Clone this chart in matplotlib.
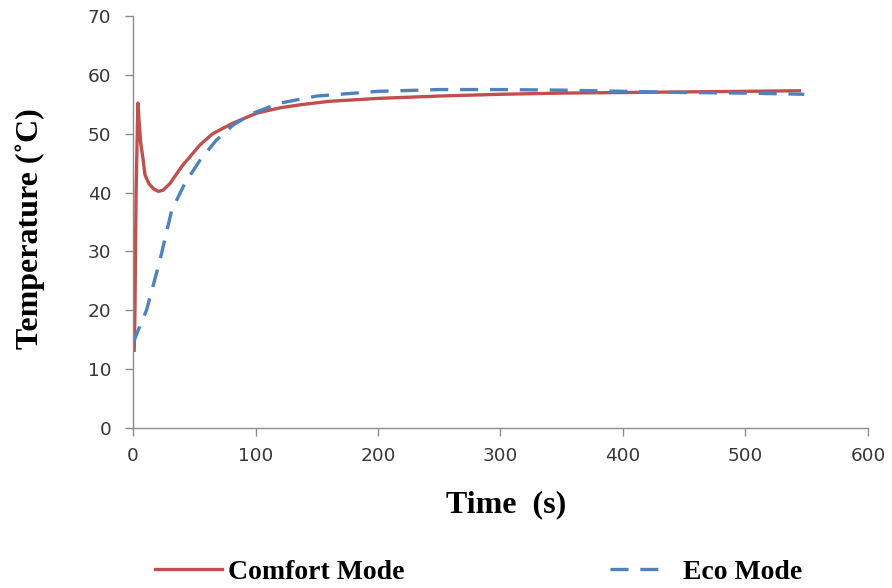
import matplotlib
matplotlib.use("Agg")
import matplotlib.pyplot as plt

# Data
comfort_t = [1, 1.6, 2.5, 4, 5, 6.3, 8, 9.8, 13, 17, 20.7, 24.5, 30, 40, 54.7, 65, 81.6,
             101, 120, 136, 160, 200, 250, 300, 350, 400, 450, 500, 544]
comfort_y = [13.2, 20, 40, 55.2, 52, 48.4, 46, 43, 41.5, 40.6, 40.2, 40.4, 41.5, 44.5, 48.1,
             50, 51.8, 53.5, 54.4, 54.9, 55.5, 56, 56.4, 56.7, 56.9, 57, 57.1, 57.2, 57.3]

eco_t = [0, 5, 11, 22, 31.6, 42.4, 54.7, 68, 81.9, 98, 120, 150, 200, 250, 300, 350, 400,
         450, 500, 548]
eco_y = [14.4, 17, 20, 28.5, 37, 41.6, 45.5, 48.9, 51.5, 53.5, 55.2, 56.4, 57.2, 57.5, 57.5,
         57.4, 57.2, 57.0, 56.9, 56.7]

x_ticks = [0, 100, 200, 300, 400, 500, 600]
y_ticks = [0, 10, 20, 30, 40, 50, 60, 70]

plt.rcParams['lines.scale_dashes'] = False

fig = plt.figure(figsize=(8.92, 5.88), dpi=100)
ax = fig.add_axes([133/892, 1 - 428/588, (868-133)/892, (428-16)/588])

l1, = ax.plot(comfort_t, comfort_y, color='#C0504D', lw=2.4, label='Comfort Mode',
              solid_joinstyle='round')
l2, = ax.plot(eco_t, eco_y, color='#4F81BD', lw=2.4, dashes=(13, 8.5), label='Eco Mode')

ax.set_xlim(0, 600)
ax.set_ylim(0, 70)
ax.set_xticks(x_ticks)
ax.set_yticks(y_ticks)

for s in ['top', 'right']:
    ax.spines[s].set_visible(False)
for s in ['left', 'bottom']:
    ax.spines[s].set_color('#8C8C8C')
    ax.spines[s].set_linewidth(1.0)
ax.tick_params(direction='out', length=5.5, width=1, color='#8C8C8C',
               labelsize=13.3, labelcolor='#383838')
ax.tick_params(axis='x', pad=8)
ax.tick_params(axis='y', pad=10)
for lab in ax.get_xticklabels() + ax.get_yticklabels():
    lab.set_family('DejaVu Sans')

serif = {'family': 'Liberation Serif', 'weight': 'bold'}
ax.set_xlabel('Time  (s)', fontdict=serif, fontsize=23)
ax.xaxis.set_label_coords((506 - 133) / 735, -(490 - 428) / 412)
ax.set_ylabel('Temperature (˚C)', fontdict=serif, fontsize=23)
ax.yaxis.set_label_coords((45 - 133) / 735, (428 - 229) / 412)

fs = 20
fs_px = fs * 100 / 72
prop = {'family': 'Liberation Serif', 'weight': 'bold', 'size': fs}
leg1 = fig.legend([l1], ['Comfort Mode'], loc='center left',
                  bbox_to_anchor=(155/892, 1 - 572/588), frameon=False,
                  borderpad=0, borderaxespad=0,
                  handlelength=67/fs_px, handletextpad=6/fs_px, prop=prop)
leg2 = fig.legend([l2], ['Eco Mode'], loc='center left',
                  bbox_to_anchor=(610/892, 1 - 572/588), frameon=False,
                  borderpad=0, borderaxespad=0,
                  handlelength=54/fs_px, handletextpad=19/fs_px, prop=prop)

fig.savefig('out.png', dpi=100)
